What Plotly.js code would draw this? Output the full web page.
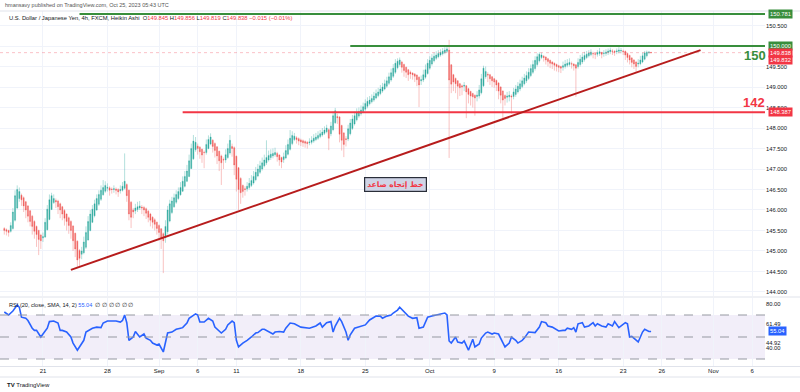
<!DOCTYPE html>
<html><head><meta charset="utf-8">
<script src="https://cdn.plot.ly/plotly-3.0.1.min.js"></script>
<style>html,body{margin:0;padding:0;background:#fff}#chart{width:800px;height:392px}</style>
</head><body><div id="chart"></div>
<script>
// Heikin Ashi 4h candles, USD/JPY (bar index 0 = Aug 16)
const openP=[
145.55,145.52,145.50,145.48,145.55,145.75,146.05,146.28,146.36,146.30,
146.20,146.10,145.98,145.85,145.72,145.60,145.50,145.39,145.32,145.34,
145.52,145.77,146.01,146.18,146.23,146.22,146.15,146.08,145.99,145.90,
145.81,145.72,145.61,145.43,145.24,145.01,144.92,144.96,145.09,145.27,
145.50,145.70,145.86,146.00,146.14,146.26,146.37,146.46,146.53,146.54,
146.51,146.50,146.51,146.50,146.47,146.48,146.53,146.62,146.48,146.19,
146.00,145.98,146.01,146.05,146.07,146.06,146.03,145.97,145.90,145.82,
145.76,145.70,145.62,145.54,145.42,145.33,145.47,145.73,145.94,146.08,
146.19,146.28,146.37,146.46,146.58,146.70,146.82,147.01,147.25,147.47,
147.56,147.53,147.48,147.41,147.40,147.50,147.61,147.70,147.62,147.54,
147.43,147.32,147.23,147.22,147.28,147.39,147.55,147.52,147.31,147.03,
146.77,146.60,146.52,146.51,146.55,146.60,146.66,146.74,146.83,146.92,
147.00,147.08,147.15,147.22,147.28,147.32,147.35,147.38,147.34,147.28,
147.23,147.27,147.36,147.48,147.62,147.72,147.76,147.74,147.71,147.69,
147.67,147.65,147.64,147.65,147.68,147.72,147.75,147.79,147.83,147.87,
147.91,147.96,147.86,147.96,148.13,148.28,148.27,148.06,147.88,147.74,
147.73,147.86,147.99,148.10,148.20,148.29,148.35,148.40,148.46,148.53,
148.59,148.64,148.68,148.73,148.79,148.84,148.90,148.95,149.02,149.09,
149.17,149.26,149.36,149.47,149.55,149.61,149.55,149.48,149.42,149.36,
149.34,149.32,149.29,149.24,149.15,149.17,149.24,149.33,149.46,149.56,
149.64,149.70,149.74,149.78,149.81,149.84,149.87,149.90,149.54,149.30,
149.21,149.15,149.08,149.03,149.02,149.03,148.96,148.89,148.84,148.80,
148.77,148.78,148.86,149.03,149.25,149.31,149.30,149.25,149.20,149.16,
149.10,149.00,148.90,148.79,148.75,148.76,148.78,148.77,148.82,148.88,
148.95,149.01,149.08,149.15,149.21,149.28,149.36,149.45,149.55,149.64,
149.72,149.75,149.73,149.69,149.65,149.61,149.58,149.55,149.52,149.50,
149.48,149.50,149.53,149.55,149.57,149.56,149.54,149.50,149.55,149.61,
149.67,149.72,149.76,149.79,149.82,149.81,149.80,149.82,149.84,149.82,
149.82,149.84,149.86,149.88,149.87,149.86,149.87,149.88,149.88,149.87,
149.82,149.77,149.71,149.66,149.61,149.56,149.57,149.61,149.68,149.76,
149.84,149.845];
const highP=[
145.58,145.55,145.52,145.70,146.05,146.48,146.60,146.55,146.40,146.33,
146.22,146.12,146.00,145.88,145.75,145.62,145.52,145.42,145.45,145.80,
146.12,146.38,146.42,146.38,146.28,146.25,146.18,146.10,146.02,145.92,
145.84,145.75,145.63,145.45,145.26,145.05,145.10,145.35,145.60,145.85,
146.00,146.12,146.25,146.38,146.48,146.60,146.73,146.70,146.65,146.58,
146.55,146.60,146.55,146.53,146.60,146.68,147.38,146.65,146.50,146.22,
146.05,146.15,146.20,146.22,146.12,146.10,146.06,146.00,145.93,145.85,
145.80,145.72,145.65,145.56,145.45,145.75,146.10,146.25,146.32,146.40,
146.48,146.55,146.68,146.82,146.95,147.10,147.35,147.62,147.83,147.78,
147.62,147.56,147.50,147.45,147.72,147.82,147.87,147.73,147.65,147.56,
147.45,147.35,147.28,147.48,147.62,147.83,147.62,147.55,147.33,147.05,
146.80,146.62,146.58,146.68,146.78,146.85,146.95,147.05,147.12,147.20,
147.28,147.35,147.70,147.45,147.48,147.50,147.52,147.42,147.36,147.30,
147.40,147.58,147.72,147.95,147.92,147.88,147.80,147.77,147.74,147.72,
147.70,147.68,147.75,147.80,147.85,147.88,147.92,147.95,148.00,148.04,
148.08,147.99,148.15,148.40,148.49,148.35,148.29,148.08,147.90,147.80,
148.08,148.22,148.32,148.40,148.48,148.50,148.55,148.62,148.70,148.75,
148.78,148.82,148.88,148.94,148.98,149.05,149.10,149.18,149.25,149.35,
149.45,149.56,149.68,149.70,149.72,149.64,149.57,149.50,149.44,149.40,
149.36,149.34,149.31,149.26,149.28,149.42,149.55,149.68,149.75,149.80,
149.84,149.87,149.90,149.92,149.95,149.97,150.00,150.15,149.56,149.32,
149.23,149.17,149.10,149.06,149.12,149.05,148.98,148.91,148.86,148.82,
148.90,149.05,149.32,149.52,149.50,149.36,149.32,149.27,149.22,149.18,
149.12,149.02,148.92,148.82,148.88,148.90,148.82,148.98,149.05,149.12,
149.18,149.25,149.32,149.38,149.46,149.55,149.65,149.75,149.82,149.85,
149.84,149.78,149.75,149.71,149.67,149.63,149.60,149.57,149.54,149.52,
149.62,149.66,149.68,149.70,149.62,149.58,149.56,149.70,149.78,149.82,
149.86,149.88,149.90,149.92,149.86,149.84,149.90,149.95,149.86,149.90,
149.92,149.94,149.96,149.92,149.90,149.94,149.97,149.95,149.91,149.89,
149.84,149.79,149.73,149.68,149.63,149.68,149.76,149.84,149.88,149.89,
149.88,149.856];
const lowP=[
145.40,145.38,145.35,145.45,145.52,145.72,146.02,146.20,146.10,145.95,
145.80,145.70,145.60,145.40,145.30,145.10,144.90,145.05,145.22,145.32,
145.50,145.75,146.00,146.15,146.05,145.90,145.80,145.75,145.62,145.50,
145.42,145.30,145.00,144.85,144.60,144.62,144.80,144.92,145.05,145.25,
145.48,145.68,145.82,145.98,146.10,146.22,146.35,146.42,146.45,146.35,
146.40,146.42,146.38,146.32,146.40,146.45,146.50,146.20,145.75,145.56,
145.80,145.90,145.95,146.00,145.90,145.85,145.78,145.70,145.60,145.55,
145.50,145.40,145.25,145.05,144.46,145.20,145.40,145.70,145.90,146.05,
146.15,146.25,146.35,146.44,146.55,146.68,146.80,147.00,147.22,147.42,
147.35,147.25,147.15,147.02,147.35,147.48,147.58,147.40,147.28,147.12,
146.95,146.61,147.00,147.15,147.25,147.35,147.30,146.85,146.45,146.00,
146.15,146.30,146.35,146.45,146.50,146.56,146.62,146.70,146.80,146.88,
146.96,147.04,147.10,147.18,147.22,147.26,147.30,147.18,147.08,147.02,
147.15,147.24,147.33,147.45,147.58,147.68,147.62,147.58,147.56,147.54,
147.52,147.50,147.58,147.60,147.64,147.68,147.71,147.75,147.79,147.83,
147.87,147.46,147.80,147.92,148.10,148.10,147.65,147.45,147.29,147.55,
147.68,147.82,147.95,148.06,148.16,148.25,148.30,148.36,148.42,148.48,
148.55,148.60,148.64,148.70,148.75,148.80,148.86,148.92,148.98,149.05,
149.13,149.22,149.32,149.43,149.50,149.35,149.25,149.22,149.15,149.20,
149.18,149.12,149.02,148.51,149.05,149.12,149.20,149.30,149.42,149.52,
149.60,149.66,149.70,149.74,149.77,149.80,149.83,147.27,148.85,148.90,
148.85,148.70,148.78,148.80,148.90,148.24,148.60,148.55,148.50,148.30,
148.65,148.72,148.82,149.00,149.20,149.12,149.05,149.00,148.98,148.90,
148.70,148.60,148.24,148.55,148.62,148.65,148.35,148.70,148.76,148.84,
148.90,148.97,149.04,149.10,149.17,149.24,149.32,149.40,149.50,149.60,
149.68,149.62,149.55,149.50,149.46,149.44,149.40,149.38,149.36,149.34,
149.40,149.45,149.48,149.50,149.45,149.40,148.76,149.45,149.50,149.56,
149.62,149.68,149.72,149.75,149.70,149.68,149.74,149.76,149.70,149.74,
149.76,149.78,149.80,149.78,149.76,149.80,149.82,149.82,149.78,149.66,
149.60,149.55,149.48,149.44,149.37,149.48,149.53,149.58,149.65,149.72,
149.80,149.819];
const closeP=[
145.50,145.48,145.45,145.62,145.95,146.35,146.50,146.45,146.25,146.10,
146.00,145.85,145.72,145.60,145.48,145.40,145.28,145.25,145.35,145.70,
146.02,146.25,146.35,146.28,146.20,146.08,146.00,145.90,145.80,145.72,
145.62,145.50,145.25,145.05,144.78,144.82,145.00,145.22,145.45,145.72,
145.90,146.02,146.15,146.28,146.38,146.48,146.55,146.60,146.55,146.48,
146.50,146.52,146.48,146.44,146.50,146.58,146.70,146.35,145.90,145.82,
145.95,146.05,146.08,146.10,146.05,146.00,145.92,145.82,145.75,145.70,
145.65,145.55,145.45,145.30,145.25,145.60,146.00,146.15,146.22,146.30,
146.38,146.45,146.55,146.70,146.82,146.95,147.20,147.50,147.68,147.65,
147.50,147.42,147.34,147.40,147.60,147.72,147.78,147.55,147.45,147.32,
147.20,147.15,147.22,147.35,147.50,147.70,147.50,147.10,146.75,146.50,
146.42,146.45,146.50,146.58,146.65,146.72,146.82,146.92,147.00,147.08,
147.15,147.22,147.28,147.33,147.36,147.38,147.40,147.30,147.22,147.17,
147.30,147.45,147.60,147.75,147.82,147.80,147.72,147.68,147.66,147.64,
147.63,147.62,147.66,147.70,147.75,147.78,147.82,147.86,147.90,147.95,
148.00,147.75,148.05,148.30,148.42,148.25,147.85,147.70,147.60,147.72,
147.98,148.12,148.22,148.30,148.37,148.40,148.44,148.52,148.60,148.65,
148.68,148.72,148.78,148.84,148.88,148.95,149.00,149.08,149.15,149.25,
149.35,149.46,149.58,149.63,149.66,149.48,149.40,149.36,149.30,149.32,
149.30,149.26,149.18,149.05,149.18,149.30,149.42,149.58,149.65,149.71,
149.75,149.78,149.82,149.84,149.87,149.90,149.93,149.17,149.07,149.12,
149.08,149.02,148.98,149.00,149.04,148.88,148.82,148.78,148.76,148.73,
148.80,148.93,149.20,149.46,149.38,149.29,149.20,149.15,149.12,149.05,
148.90,148.80,148.68,148.72,148.78,148.80,148.76,148.88,148.95,149.02,
149.08,149.15,149.22,149.28,149.36,149.45,149.55,149.65,149.74,149.80,
149.78,149.72,149.66,149.62,149.58,149.56,149.53,149.50,149.48,149.46,
149.52,149.56,149.58,149.60,149.56,149.52,149.46,149.60,149.68,149.73,
149.77,149.80,149.83,149.85,149.81,149.80,149.84,149.86,149.80,149.83,
149.85,149.88,149.90,149.87,149.85,149.88,149.90,149.89,149.86,149.78,
149.72,149.66,149.60,149.56,149.50,149.58,149.66,149.76,149.83,149.85,
149.85,149.838];

// RSI(20) samples: bar index and value
const rsiBar=[0,2,4,6,7,8,10,11,13,14,15,17,18,20,21,23,25,26,27,29,31,32,34,35,37,38,40,41,43,45,46,48,51,52,54,55,56,57,58,60,61,63,65,66,68,69,71,72,74,75,76,78,80,82,83,85,86,89,90,91,93,95,97,98,100,101,103,104,106,107,108,109,111,112,113,115,117,118,120,121,123,125,126,128,130,131,133,135,138,140,142,145,147,148,150,152,153,154,156,157,159,160,161,163,166,168,170,173,175,176,178,180,181,183,184,186,188,189,190,192,193,195,196,197,199,201,204,205,206,207,208,210,211,213,214,216,218,219,221,222,224,225,227,228,230,232,233,235,236,238,239,241,242,244,246,247,249,250,252,253,255,256,258,260,261,262,264,265,266,267,269,270,272,274,275,276,278,280,281,283,284,286,288,289,290,291,292,294,295,296,297,298,300,301];
const rsiVal=[72.7,70,73.6,79,77,68,67,65,58,56,56,50,52.7,58,64,64.5,62.7,56,56,54.5,50,44.5,38,41,47,54.5,57,58,59,58.5,62.7,64.5,64.5,64.5,63.6,65,70,63,47,50,55,50,52.7,49,47,44.5,42.7,43.6,36.4,44.5,53.6,54.5,57,58,58.5,62.7,67,71,70,63.6,63.6,67,64.5,59,55,53.6,57,61,64.5,63,47,41,44.5,45.5,47,50,53.6,54,57,57,55,52.7,54.5,55,54.5,58,62.7,62,59,58.5,58,60,62.7,59,63,64,54.5,60,67,64,54.5,47,52,58,60,61,65.5,69,69,67,69,70,71.8,74.5,77,72.7,69,68,67,67.5,58,59,64,68,69,70,71,71.8,70,46.4,44.5,50,45.5,44.5,46.4,38,48,41,43.6,49,53.6,54.5,52.7,53.6,52.7,45.5,41,44.5,50,47,44.5,47,49,54.5,54,54,59,64,63,60,59,58,55.5,56,56,58,57,58.5,54.5,62,63,59,60,63,60,62,60,59,62,60,64,58.5,61,63,62,50,50.5,47,45.5,50,54.5,57,55,55.04];

const dateTickBars=[18,48,72,90,108,138,168,198,228,258,288,306,330,348];
const dateTickText=['21','28','Sep','6','11','18','25','Oct','9','16','23','26','Nov','6'];
const priceTicks=[144,144.5,145,145.5,146,146.5,147,147.5,148,148.5,149,149.5,150,150.5];
const priceTickText=['144.000','144.500','145.000','145.500','146.000','146.500','147.000','147.500','148.000','148.500','149.000','149.500','','150.500'];
const rsiTicks=[80,61.49,44.92,40];
const rsiTickText=['80.00','61.49','44.92','40.00'];
const rsiLevels=[70,50,30];

// drawn levels (price, start bar, colour)
const levelPrices=[150.781,150.000,148.387];
const levelStartBars=[35,161,83];
const levelColors=['#388e3c','#388e3c','#f23645'];
const trendBars=[31,324];
const trendPrices=[144.54,149.90];
const lastPrice=149.838;

const barIdx=closeP.map((_,i)=>i);
const PW=765, H=392;
const py=px=>1-px/H;

const traces=[
 {type:'candlestick',x:barIdx,open:openP,high:highP,low:lowP,close:closeP,xaxis:'x',yaxis:'y',
  increasing:{line:{color:'rgba(38,166,154,0.5)',width:0.7},fillcolor:'rgba(38,166,154,0.9)'},
  decreasing:{line:{color:'rgba(239,83,80,0.5)',width:0.7},fillcolor:'rgba(239,83,80,0.9)'},
  whiskerwidth:0,hoverinfo:'skip'},
 {type:'scatter',mode:'lines',x:rsiBar,y:rsiVal,xaxis:'x',yaxis:'y2',
  line:{color:'#2962ff',width:1.6},hoverinfo:'skip'}
];

const shapes=[];
shapes.push({type:'rect',xref:'paper',yref:'y2',x0:0,x1:1,y0:30,y1:70,fillcolor:'rgba(126,87,194,0.1)',line:{width:0},layer:'below'});
rsiLevels.forEach(v=>shapes.push({type:'line',xref:'paper',yref:'y2',x0:0,x1:1,y0:v,y1:v,line:{color:'#9598a1',width:1,dash:'dash'}}));
// pane borders
[11,297,366.5,377].forEach(p=>shapes.push({type:'line',xref:'paper',yref:'paper',x0:0,x1:800/PW,y0:py(p),y1:py(p),line:{color:'#e0e3eb',width:1}}));
// last price line
shapes.push({type:'line',xref:'paper',yref:'y',x0:0,x1:1,y0:lastPrice,y1:lastPrice,line:{color:'rgba(242,54,69,0.3)',width:1,dash:'dot'}});
levelPrices.forEach((p,i)=>shapes.push({type:'line',xref:'x',yref:'y',x0:levelStartBars[i],x1:354,y0:p,y1:p,line:{color:levelColors[i],width:2}}));
shapes.push({type:'line',xref:'x',yref:'y',x0:trendBars[0],x1:trendBars[1],y0:trendPrices[0],y1:trendPrices[1],line:{color:'#b71c1c',width:2}});

const R='#f23645';
const ann=[];
ann.push({xref:'paper',yref:'paper',x:3/PW,y:py(5),xanchor:'left',yanchor:'middle',showarrow:false,
 text:'hmansavy published on TradingView.com, Oct 25, 2023 05:43 UTC',font:{size:5.5,color:'#555'}});
ann.push({xref:'paper',yref:'paper',x:7/PW,y:py(18),xanchor:'left',yanchor:'middle',showarrow:false,
 text:'U.S. Dollar / Japanese Yen, 4h, FXCM, Heikin Ashi  O<span style="color:'+R+'">149.845</span> H<span style="color:'+R+'">149.856</span> L<span style="color:'+R+'">149.819</span> C<span style="color:'+R+'">149.838</span> <span style="color:'+R+'">−0.015 (−0.01%)</span>',
 font:{size:5.8,color:'#131722'}});
ann.push({xref:'paper',yref:'paper',x:7/PW,y:py(305),xanchor:'left',yanchor:'middle',showarrow:false,
 text:'RSI (20, close, SMA, 14, 2) <span style="color:#2962ff">55.04</span>  ∅ ∅ ∅ ∅ ∅ ∅',font:{size:5.6,color:'#131722'}});
ann.push({xref:'paper',yref:'paper',x:5/PW,y:py(385),xanchor:'left',yanchor:'middle',showarrow:false,
 text:'<b>TV</b> TradingView',font:{size:6,color:'#131722'}});
// right axis price boxes
const boxes=[[150.781,'150.781','#388e3c',0],[150.000,'150.000','#388e3c',0],[149.838,'149.838',R,0],[149.838,'149.832',R,-7.5],[148.387,'148.387',R,0]];
boxes.forEach(b=>ann.push({xref:'paper',yref:'y',x:1,y:b[0],xanchor:'left',yanchor:'middle',xshift:3,yshift:b[3],showarrow:false,
 text:b[1],bgcolor:b[2],font:{size:5.8,color:'#fff'},borderpad:1}));
ann.push({xref:'paper',yref:'y2',x:1,y:55.04,xanchor:'left',yanchor:'middle',xshift:3,showarrow:false,text:'55.04',bgcolor:'#2962ff',font:{size:5.8,color:'#fff'},borderpad:1});
// chart labels
ann.push({xref:'x',yref:'y',x:349.5,y:149.78,showarrow:false,text:'<b>150</b>',font:{size:13,color:'#388e3c'}});
ann.push({xref:'x',yref:'y',x:349,y:148.63,showarrow:false,text:'<b>142</b>',font:{size:13,color:R}});
ann.push({xref:'x',yref:'y',x:182,y:146.63,showarrow:false,text:'<b>خط إتجاه صاعد</b>',
 font:{family:'DejaVu Sans',size:7.5,color:R},bgcolor:'#cfd4e6',bordercolor:'#2a2e39',borderwidth:1.2,borderpad:2});

const layout={width:800,height:392,margin:{l:0,r:35,t:0,b:0},paper_bgcolor:'#fff',plot_bgcolor:'#fff',showlegend:false,
 font:{family:'Liberation Sans, Arial, sans-serif',size:6,color:'#131722'},
 xaxis:{range:[-2,354],domain:[0,1],anchor:'y2',tickvals:dateTickBars,ticktext:dateTickText,showgrid:true,gridcolor:'#f0f3fa',
  zeroline:false,showline:false,ticks:'',tickfont:{size:6,color:'#131722'},rangeslider:{visible:false},fixedrange:true},
 yaxis:{domain:[py(296),py(11)],range:[143.902,150.854],side:'right',anchor:'x',tickvals:priceTicks,ticktext:priceTickText,
  showgrid:true,gridcolor:'#f0f3fa',zeroline:false,ticks:'',tickfont:{size:5.8,color:'#131722'},fixedrange:true},
 yaxis2:{domain:[py(366),py(298)],range:[23.64,85.45],side:'right',anchor:'x',tickvals:rsiTicks,ticktext:rsiTickText,
  showgrid:false,zeroline:false,ticks:'',tickfont:{size:5.8,color:'#131722'},fixedrange:true},
 shapes:shapes,annotations:ann};
Plotly.newPlot('chart',traces,layout,{displayModeBar:false,staticPlot:true});
</script></body></html>
